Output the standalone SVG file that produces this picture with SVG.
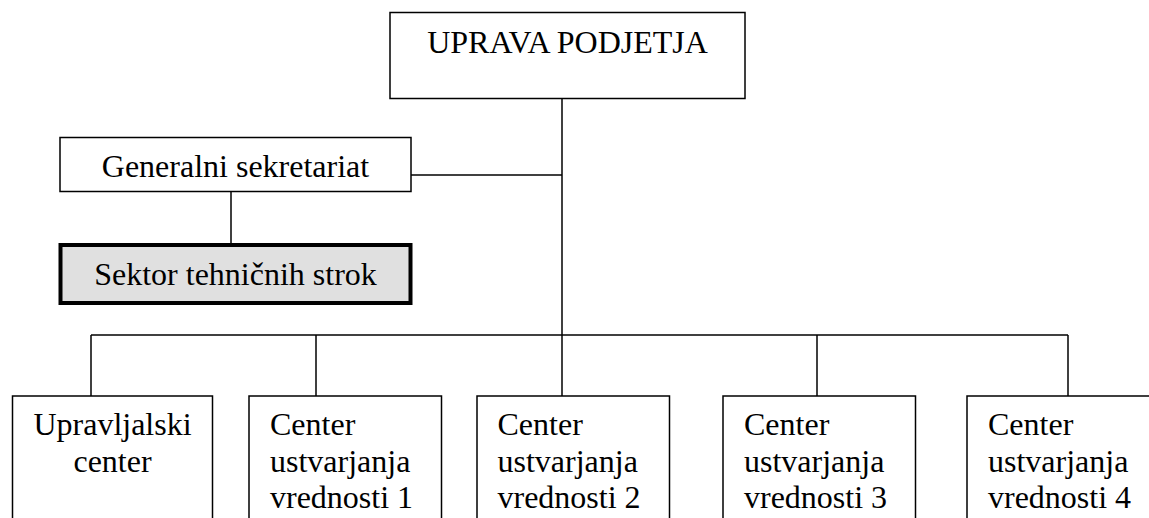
<svg xmlns="http://www.w3.org/2000/svg" width="1149" height="518" viewBox="0 0 1149 518">
<style>
.box{fill:#ffffff;stroke:#000000;stroke-width:1.5}
.thick{fill:#e0e0e0;stroke:#000000;stroke-width:4}
.t{font-family:"Liberation Serif","Times New Roman",serif;font-size:32px;fill:#000000}
.c{text-anchor:middle}
.ln{stroke:#000000;stroke-width:1.5;fill:none}
</style>
<rect width="1149" height="518" fill="#ffffff"/>
<g id="connectors">
<line class="ln" x1="562" y1="98" x2="562" y2="396"/>
<line class="ln" x1="411" y1="175" x2="562" y2="175"/>
<line class="ln" x1="231" y1="192" x2="231" y2="243"/>
<line class="ln" x1="91" y1="335" x2="1068" y2="335"/>
<line class="ln" x1="91" y1="335" x2="91" y2="396"/>
<line class="ln" x1="316" y1="335" x2="316" y2="396"/>
<line class="ln" x1="817" y1="335" x2="817" y2="396"/>
<line class="ln" x1="1068" y1="335" x2="1068" y2="396"/>
</g>
<g id="uprava">
<rect class="box" x="390" y="12.5" width="355" height="86"/>
<text class="t c" x="567.5" y="53">UPRAVA PODJETJA</text>
</g>
<g id="generalni">
<rect class="box" x="60" y="137.5" width="351" height="54"/>
<text class="t c" x="235.5" y="177">Generalni sekretariat</text>
</g>
<g id="sektor">
<rect class="thick" x="60.5" y="245" width="350" height="58"/>
<text class="t c" x="235.5" y="285">Sektor tehničnih strok</text>
</g>
<g id="upravljalski">
<rect class="box" x="12.5" y="396" width="200" height="140"/>
<text class="t c" x="112.5" y="435">Upravljalski</text>
<text class="t c" x="112.5" y="472">center</text>
</g>
<g id="center1">
<rect class="box" x="249" y="396" width="192.5" height="140"/>
<text class="t" x="270" y="435">Center</text>
<text class="t" x="270" y="472">ustvarjanja</text>
<text class="t" x="270" y="508">vrednosti 1</text>
</g>
<g id="center2">
<rect class="box" x="477" y="396" width="192.5" height="140"/>
<text class="t" x="497.5" y="435">Center</text>
<text class="t" x="497.5" y="472">ustvarjanja</text>
<text class="t" x="497.5" y="508">vrednosti 2</text>
</g>
<g id="center3">
<rect class="box" x="723" y="396" width="192.5" height="140"/>
<text class="t" x="744" y="435">Center</text>
<text class="t" x="744" y="472">ustvarjanja</text>
<text class="t" x="744" y="508">vrednosti 3</text>
</g>
<g id="center4">
<rect class="box" x="967" y="396" width="200" height="140"/>
<text class="t" x="988" y="435">Center</text>
<text class="t" x="988" y="472">ustvarjanja</text>
<text class="t" x="988" y="508">vrednosti 4</text>
</g>
</svg>
